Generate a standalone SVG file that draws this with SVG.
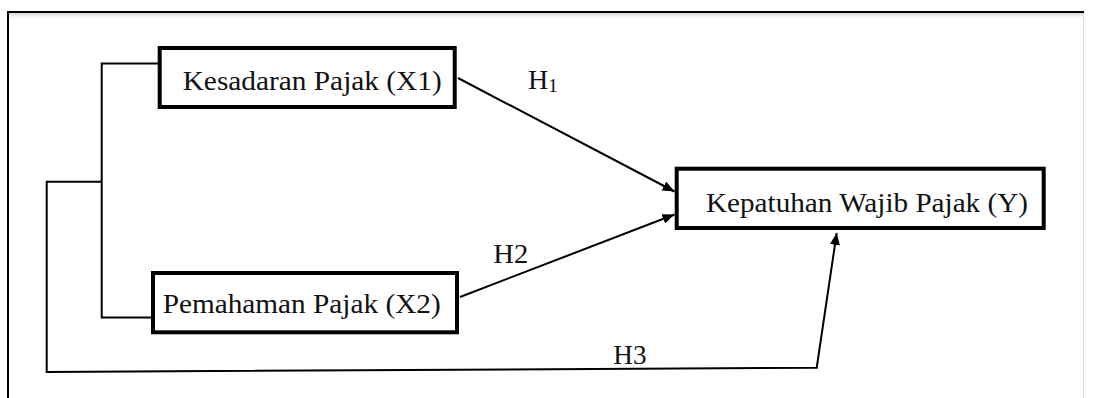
<svg xmlns="http://www.w3.org/2000/svg" width="1093" height="398" viewBox="0 0 1093 398">
<style>
.box{fill:#fff;stroke:#000;stroke-width:4}
.lbl{font-family:"Liberation Serif","Times New Roman",serif;font-size:28px;fill:#111}
.ln{fill:none;stroke:#000;stroke-width:2}
</style>
<defs>
<marker id="ah" viewBox="0 0 12 10" refX="12" refY="5" markerWidth="12" markerHeight="10" markerUnits="userSpaceOnUse" orient="auto">
<path d="M0,0 L12,5 L0,10 Z" fill="#000"/>
</marker>
<linearGradient id="sh" x1="0" y1="0" x2="0" y2="1">
<stop offset="0" stop-color="#d8d8d8"/>
<stop offset="1" stop-color="#fff" stop-opacity="0"/>
</linearGradient>
</defs>
<rect width="1093" height="398" fill="#fff"/>
<g id="frame">
<rect x="9" y="13" width="1074" height="8" fill="url(#sh)"/>
<line x1="1083.5" y1="13" x2="1083.5" y2="398" stroke="#e0e0e0" stroke-width="1"/>
<path d="M8,398 V12 H1084" fill="none" stroke="#000" stroke-width="2"/>
</g>
<g id="connectors">
<path class="ln" d="M158,63.5 H101.7 V317.5 H152"/>
<path class="ln" d="M101.7,181.7 H46.7 V372 L816.7,367.7 L836.7,233" marker-end="url(#ah)"/>
<line class="ln" x1="458" y1="78" x2="674.5" y2="191.5" marker-end="url(#ah)"/>
<line class="ln" x1="460" y1="297" x2="674.5" y2="214.5" marker-end="url(#ah)"/>
</g>
<g id="node-x1">
<rect class="box" x="159.7" y="48" width="295" height="59"/>
<text class="lbl" x="182.7" y="90" textLength="259" lengthAdjust="spacingAndGlyphs">Kesadaran Pajak (X1)</text>
</g>
<g id="node-x2">
<rect class="box" x="153" y="273" width="304" height="59.3"/>
<text class="lbl" x="162.7" y="313.3" textLength="278" lengthAdjust="spacingAndGlyphs">Pemahaman Pajak (X2)</text>
</g>
<g id="node-y">
<rect class="box" x="676.7" y="168.7" width="367" height="59.3"/>
<text class="lbl" x="706" y="211.7" textLength="322" lengthAdjust="spacingAndGlyphs">Kepatuhan Wajib Pajak (Y)</text>
</g>
<g id="labels">
<text class="lbl" x="528" y="89.3">H<tspan font-size="19" dy="2.5">1</tspan></text>
<text class="lbl" x="493.3" y="263.3" textLength="35" lengthAdjust="spacingAndGlyphs">H2</text>
<text class="lbl" x="613.3" y="364.3" textLength="33.3" lengthAdjust="spacingAndGlyphs">H3</text>
</g>
</svg>
